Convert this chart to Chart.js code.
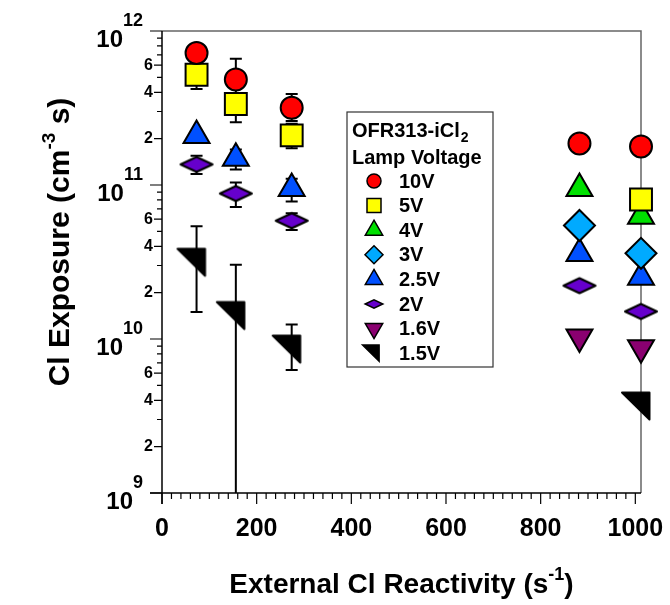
<!DOCTYPE html>
<html>
<head>
<meta charset="utf-8">
<script src="https://cdn.jsdelivr.net/npm/chart.js@4.4.1/dist/chart.umd.min.js"></script>
<style>
  html, body { margin: 0; padding: 0; background: #fff; }
  #wrap { width: 670px; height: 605px; }
</style>
</head>
<body>
<div id="wrap"><canvas id="chart" width="670" height="605"></canvas></div>
<script>
// External Cl reactivity (s^-1) of the five run groups
const reactivity = [73, 156, 274, 882, 1012];

// Cl exposure (cm^-3 s) per lamp voltage, null where there is no point
const v10  = [7.2e11, 4.85e11, 3.17e11, 1.86e11, 1.78e11];
const v5   = [5.2e11, 3.36e11, 2.1e11, null, 8.06e10];
const v4   = [null, null, null, 9.5e10, 6.27e10];
const v3   = [null, null, null, 5.46e10, 3.6e10];
const v2_5 = [2.1e11, 1.49e11, 9.5e10, 3.59e10, 2.52e10];
const v2   = [1.36e11, 8.8e10, 5.86e10, 2.22e10, 1.51e10];
const v1_6 = [null, null, null, 1.03e10, 8.77e9];
const v1_5 = [3.15e10, 1.42e10, 8.6e9, null, 3.67e9];

// error bars [low, high]
const v10Err  = [null, [3.6e11, 6.6e11], [2.6e11, 3.9e11], null, null];
const v5Err   = [[4.2e11, 6.4e11], [2.56e11, 4.4e11], [1.73e11, 2.5e11], null, null];
const v2_5Err = [null, [1.26e11, 1.7e11], [7.8e10, 1.1e11], null, null];
const v2Err   = [[1.18e11, 1.55e11], [7.2e10, 1.04e11], [5.1e10, 6.56e10], null, null];
const v1_5Err = [[1.5e10, 5.4e10], [1e8, 3.04e10], [6.3e9, 1.24e10], null, null];

// axis ticks
const xTickValues = [0, 200, 400, 600, 800, 1000];
const xMinorStep = 20;
const yDecades = [9, 10, 11, 12];
const yMinorLabels = [2, 4, 6];

const F = '"Liberation Sans", Arial, sans-serif';

// marker outlines, k = scale (1 = size on the plot)
function pathShape(ctx, shape, cx, cy, k) {
    ctx.beginPath();
    if (shape === 'circle') {
        ctx.arc(cx, cy, 7 * k, 0, Math.PI * 2);
    } else if (shape === 'square') {
        ctx.rect(cx - 7 * k, cy - 7 * k, 14 * k, 14 * k);
    } else if (shape === 'tri') {
        ctx.moveTo(cx, cy - 10 * k);
        ctx.lineTo(cx + 8.7 * k, cy + 5 * k);
        ctx.lineTo(cx - 8.7 * k, cy + 5 * k);
        ctx.closePath();
    } else if (shape === 'triDown') {
        ctx.moveTo(cx, cy + 10 * k);
        ctx.lineTo(cx + 8.7 * k, cy - 5 * k);
        ctx.lineTo(cx - 8.7 * k, cy - 5 * k);
        ctx.closePath();
    } else if (shape === 'diamond') {
        ctx.moveTo(cx, cy - 9 * k);
        ctx.lineTo(cx + 9 * k, cy);
        ctx.lineTo(cx, cy + 9 * k);
        ctx.lineTo(cx - 9 * k, cy);
        ctx.closePath();
    } else if (shape === 'rhomb') {
        ctx.moveTo(cx - 16 * k, cy);
        ctx.lineTo(cx, cy - 7.5 * k);
        ctx.lineTo(cx + 16 * k, cy);
        ctx.lineTo(cx, cy + 7.5 * k);
        ctx.closePath();
    } else if (shape === 'flag') {
        ctx.moveTo(cx - 19 * k, cy - 13.5 * k);
        ctx.lineTo(cx + 8.5 * k, cy - 13.5 * k);
        ctx.lineTo(cx + 8.5 * k, cy + 13.5 * k);
        ctx.closePath();
    }
}

function shapeCanvas(shape, color, w, h) {
    const c = document.createElement('canvas');
    c.width = w;
    c.height = h;
    const g = c.getContext('2d');
    g.fillStyle = color;
    g.strokeStyle = '#000';
    g.lineWidth = 2;
    g.lineJoin = 'round';
    pathShape(g, shape, w / 2, h / 2, 1);
    g.fill();
    g.stroke();
    return c;
}

const series = [
    { label: '10V',  values: v10,  err: v10Err,  color: '#FF0000', shape: 'circle',  style: 'circle',   radius: 11 },
    { label: '5V',   values: v5,   err: v5Err,   color: '#FFFF00', shape: 'square',  style: 'rect',     radius: 15.5 },
    { label: '4V',   values: v4,   err: null,    color: '#00E000', shape: 'tri',     style: 'triangle', radius: 15 },
    { label: '3V',   values: v3,   err: null,    color: '#00AAFF', shape: 'diamond', style: 'rectRot',  radius: 15.5 },
    { label: '2.5V', values: v2_5, err: v2_5Err, color: '#0050FF', shape: 'tri',     style: 'triangle', radius: 15 },
    { label: '2V',   values: v2,   err: v2Err,   color: '#6600CC', shape: 'rhomb',   style: null,       radius: 16 },
    { label: '1.6V', values: v1_6, err: null,    color: '#8A0070', shape: 'triDown', style: 'triangle', radius: 15, rotation: 180 },
    { label: '1.5V', values: v1_5, err: v1_5Err, color: '#000000', shape: 'flag',    style: null,       radius: 20 }
];
series[5].style = shapeCanvas('rhomb', series[5].color, 36, 20);
series[7].style = shapeCanvas('flag', series[7].color, 44, 36);

// log ticks: decades, labelled 2/4/6, plain minors
const yTicks = [];
yDecades.forEach((e, i) => {
    const base = Math.pow(10, e);
    yTicks.push({ value: base, kind: 'major', label: '' });
    if (i === yDecades.length - 1) return;
    for (let m = 2; m <= 9; m++) {
        const lab = yMinorLabels.includes(m);
        yTicks.push({ value: m * base, kind: lab ? 'mid' : 'minor', label: lab ? String(m) : '' });
    }
});

const framePlugin = {
    id: 'frame',
    beforeDatasetsDraw(chart) {
        const { ctx, chartArea: a, scales: { x, y } } = chart;
        ctx.save();
        // top and right border
        ctx.strokeStyle = '#666';
        ctx.lineWidth = 1.5;
        ctx.beginPath();
        ctx.moveTo(a.left, a.top);
        ctx.lineTo(a.right, a.top);
        ctx.lineTo(a.right, a.bottom);
        ctx.stroke();

        // axes
        ctx.strokeStyle = '#000';
        ctx.lineWidth = 1.5;
        ctx.beginPath();
        ctx.moveTo(a.left, a.top);
        ctx.lineTo(a.left, a.bottom + 11);
        ctx.moveTo(a.left - 12, a.bottom);
        ctx.lineTo(a.right, a.bottom);
        ctx.stroke();

        // y ticks
        ctx.lineWidth = 1.2;
        ctx.beginPath();
        yTicks.forEach(t => {
            const py = y.getPixelForValue(t.value);
            const len = t.kind === 'major' ? 12 : (t.kind === 'mid' ? 8 : 5);
            ctx.moveTo(a.left - len, py);
            ctx.lineTo(a.left, py);
        });
        // x ticks
        for (let v = 0; v <= 1000; v += xMinorStep) {
            const px = x.getPixelForValue(v);
            const len = xTickValues.includes(v) ? 11 : 6;
            ctx.moveTo(px, a.bottom);
            ctx.lineTo(px, a.bottom + len);
        }
        ctx.stroke();

        // error bars
        ctx.lineWidth = 2;
        ctx.beginPath();
        series.forEach(s => {
            if (!s.err) return;
            s.err.forEach((e, i) => {
                if (!e) return;
                const px = x.getPixelForValue(reactivity[i]);
                let lo = y.getPixelForValue(e[0]);
                let hi = y.getPixelForValue(e[1]);
                const loCap = lo <= a.bottom;
                lo = Math.min(lo, a.bottom);
                hi = Math.max(hi, a.top);
                ctx.moveTo(px, lo);
                ctx.lineTo(px, hi);
                if (loCap) { ctx.moveTo(px - 6, lo); ctx.lineTo(px + 6, lo); }
                ctx.moveTo(px - 6, hi);
                ctx.lineTo(px + 6, hi);
            });
        });
        ctx.stroke();
        ctx.restore();
    },
    afterDraw(chart) {
        const { ctx, chartArea: a, scales: { y } } = chart;
        ctx.save();
        ctx.fillStyle = '#000';
        ctx.textBaseline = 'alphabetic';
        ctx.textAlign = 'left';

        // decade labels 10^n
        yDecades.forEach(e => {
            const py = y.getPixelForValue(Math.pow(10, e));
            const sup = String(e);
            ctx.font = `bold 18px ${F}`;
            const sw = ctx.measureText(sup).width;
            ctx.font = `bold 24px ${F}`;
            const bw = ctx.measureText('10').width;
            const right = a.left - 19;
            ctx.fillText('10', right - sw - bw, py + 16);
            ctx.font = `bold 18px ${F}`;
            ctx.fillText(sup, right - sw, py - 5);
        });

        // axis titles with superscripts
        function runs(parts) {
            let w = 0;
            parts.forEach(p => { ctx.font = p.font; p.w = ctx.measureText(p.t).width; w += p.w; });
            return w;
        }
        function drawRuns(parts, x0, y0) {
            let cx = x0;
            parts.forEach(p => { ctx.font = p.font; ctx.fillText(p.t, cx, y0 + (p.dy || 0)); cx += p.w; });
        }

        const xt = [
            { t: 'External Cl Reactivity (s', font: `bold 28px ${F}` },
            { t: '-1', font: `bold 18px ${F}`, dy: -13 },
            { t: ')', font: `bold 28px ${F}` }
        ];
        const xw = runs(xt);
        drawRuns(xt, (a.left + a.right) / 2 - xw / 2, 593);

        const yt = [
            { t: 'Cl Exposure (cm', font: `bold 30px ${F}` },
            { t: '-3', font: `bold 19px ${F}`, dy: -14 },
            { t: ' s)', font: `bold 30px ${F}` }
        ];
        const yw = runs(yt);
        ctx.save();
        ctx.translate(69, 242);
        ctx.rotate(-Math.PI / 2);
        drawRuns(yt, -yw / 2, 0);
        ctx.restore();

        // legend box
        const lx = 347, ly = 112, lw = 146, lh = 255;
        ctx.fillStyle = '#fff';
        ctx.fillRect(lx, ly, lw, lh);
        ctx.strokeStyle = '#333';
        ctx.lineWidth = 1.2;
        ctx.strokeRect(lx, ly, lw, lh);
        ctx.fillStyle = '#000';
        ctx.font = `bold 20px ${F}`;
        ctx.fillText('OFR313-iCl', lx + 5, ly + 25);
        const tw = ctx.measureText('OFR313-iCl').width;
        ctx.font = `bold 14px ${F}`;
        ctx.fillText('2', lx + 5 + tw + 1, ly + 30);
        ctx.font = `bold 20px ${F}`;
        ctx.fillText('Lamp Voltage', lx + 5, ly + 52);

        ctx.textBaseline = 'middle';
        series.forEach((s, i) => {
            const cy = ly + 69 + i * 24.6;
            ctx.fillStyle = s.color;
            ctx.strokeStyle = '#000';
            ctx.lineWidth = 1.5;
            const k = s.shape === 'rhomb' ? 0.55 : (s.shape === 'flag' ? 0.6 : 1);
            pathShape(ctx, s.shape, lx + 27, cy, k);
            ctx.fill();
            ctx.stroke();
            ctx.fillStyle = '#000';
            ctx.font = `bold 20px ${F}`;
            ctx.fillText(s.label, lx + 52, cy + 1);
        });
        ctx.restore();
    }
};

new Chart(document.getElementById('chart'), {
    type: 'scatter',
    data: {
        datasets: series.map(s => ({
            label: s.label,
            data: reactivity.map((r, i) => ({ x: r, y: s.values[i] })).filter(p => p.y !== null),
            pointStyle: s.style,
            pointRadius: s.radius,
            pointRotation: s.rotation || 0,
            backgroundColor: s.color,
            borderColor: '#000',
            borderWidth: 2,
            showLine: false,
            clip: false
        }))
    },
    options: {
        responsive: false,
        animation: false,
        events: [],
        layout: { padding: { top: 31, right: 29, left: 0, bottom: 0 } },
        plugins: { legend: { display: false }, tooltip: { enabled: false } },
        scales: {
            x: {
                type: 'linear',
                min: 0,
                max: 1012,
                grid: { display: false, drawTicks: false },
                border: { display: false },
                afterBuildTicks: s => { s.ticks = xTickValues.map(v => ({ value: v })); },
                afterFit: s => { s.height = 112; s.paddingLeft = 0; s.paddingRight = 0; },
                ticks: {
                    autoSkip: false, maxRotation: 0, padding: 21, color: '#000',
                    font: { family: F, size: 25, weight: 'bold' },
                    callback: v => String(v)
                }
            },
            y: {
                type: 'logarithmic',
                min: 1e9,
                max: 1e12,
                grid: { display: false, drawTicks: false },
                border: { display: false },
                afterBuildTicks: s => { s.ticks = yTicks.map(t => ({ value: t.value })); },
                afterFit: s => { s.width = 162; s.paddingTop = 0; s.paddingBottom = 0; },
                ticks: {
                    autoSkip: false, padding: 9, color: '#000',
                    font: { family: F, size: 16, weight: 'bold' },
                    callback: (v, i) => yTicks[i] ? yTicks[i].label : ''
                }
            }
        }
    },
    plugins: [framePlugin]
});
</script>
</body>
</html>
